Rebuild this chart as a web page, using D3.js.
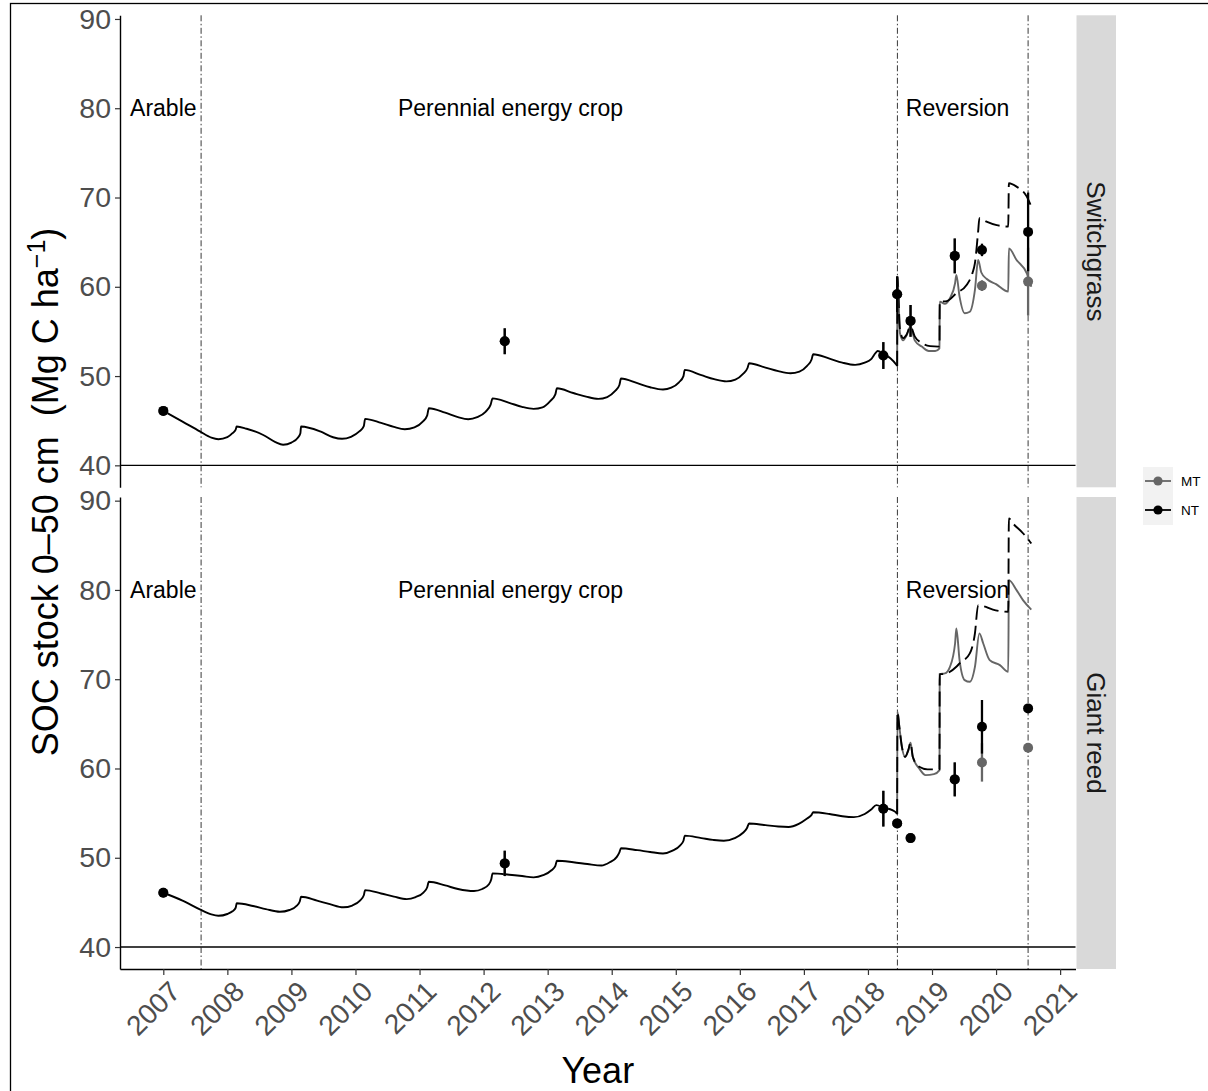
<!DOCTYPE html>
<html><head><meta charset="utf-8">
<script src="https://cdn.jsdelivr.net/npm/d3@7"></script>
<style>
body{margin:0;background:#fff}
svg{display:block}
text{font-family:"Liberation Sans",Arial,Helvetica,sans-serif}
</style>
</head><body>
<svg id="chart" width="1208" height="1091"></svg>
<script>
// ---------------- DATA ----------------
const facets = ["Switchgrass", "Giant reed"];
const treatments = ["MT", "NT"];
const yTicks = [40, 50, 60, 70, 80, 90];
const xTicks = [2007, 2008, 2009, 2010, 2011, 2012, 2013, 2014, 2015, 2016, 2017, 2018, 2019, 2020, 2021];
const phaseLines = [2007.59, 2018.46, 2020.50];
const phaseNames = ["Arable", "Perennial energy crop", "Reversion"];
const phaseLabelX = [2007.0, 2012.42, 2019.40];
const phaseLabelY = 80;

// simulated SOC, shared by MT and NT before reversion [year, value]
const swCommon = [
[2007.0,46.1],[2007.3,44.9],[2007.57,43.8],[2007.75,43.1],[2007.86,42.93],[2008.0,43.15],[2008.08,43.6],[2008.13,44.0],[2008.145,44.35],
[2008.3,44.1],[2008.56,43.4],[2008.75,42.6],[2008.87,42.3],[2009.0,42.55],[2009.1,43.1],[2009.14,43.6],[2009.15,44.35],
[2009.45,43.8],[2009.65,43.15],[2009.79,42.97],[2009.93,43.2],[2010.06,43.8],[2010.13,44.4],[2010.15,45.21],
[2010.4,44.75],[2010.6,44.3],[2010.77,44.05],[2010.92,44.25],[2011.05,44.9],[2011.12,45.6],[2011.145,46.4],
[2011.4,45.9],[2011.6,45.4],[2011.76,45.17],[2011.9,45.4],[2012.03,46.0],[2012.11,46.8],[2012.14,47.5],
[2012.4,47.0],[2012.6,46.55],[2012.78,46.33],[2012.92,46.5],[2013.04,47.2],[2013.12,47.95],[2013.145,48.64],
[2013.4,48.1],[2013.6,47.7],[2013.79,47.45],[2013.93,47.65],[2014.05,48.3],[2014.12,49.0],[2014.145,49.72],
[2014.4,49.2],[2014.6,48.75],[2014.8,48.5],[2014.93,48.7],[2015.05,49.3],[2015.12,50.0],[2015.14,50.69],
[2015.4,50.1],[2015.6,49.65],[2015.79,49.4],[2015.93,49.6],[2016.05,50.25],[2016.12,50.9],[2016.145,51.44],
[2016.4,50.95],[2016.6,50.55],[2016.79,50.32],[2016.93,50.5],[2017.05,51.15],[2017.12,51.85],[2017.145,52.45],
[2017.4,51.95],[2017.6,51.5],[2017.8,51.25],[2017.95,51.5],[2018.05,51.9],[2018.12,52.6],[2018.15,52.8],[2018.25,52.45],[2018.35,52.0],[2018.44,51.3],[2018.456,51.14]
];
const swNT = [
[2018.456,51.14],[2018.46,61.1],[2018.5,55.2],[2018.55,54.25],[2018.6,54.6],[2018.665,55.55],[2018.73,54.45],[2018.84,53.7],[2018.97,53.35],[2019.1,53.3],[2019.117,53.35],
[2019.12,58.34],[2019.23,58.4],[2019.38,59.28],[2019.54,60.2],[2019.63,61.5],[2019.67,62.64],[2019.72,66.18],[2019.74,67.68],[2019.85,67.3],[2020.01,66.9],[2020.19,66.74],
[2020.2,71.6],[2020.32,71.22],[2020.48,70.1],[2020.55,68.98]
];
const swMT = [
[2018.456,51.14],[2018.46,61.1],[2018.5,54.8],[2018.55,54.0],[2018.6,54.5],[2018.665,55.55],[2018.73,54.0],[2018.84,53.3],[2018.95,52.8],[2019.05,52.8],[2019.117,53.1],
[2019.12,58.34],[2019.2,58.1],[2019.28,58.72],[2019.36,60.4],[2019.38,61.33],[2019.43,58.9],[2019.51,57.04],[2019.59,57.2],[2019.67,59.65],[2019.72,63.0],[2019.77,61.6],[2019.85,60.9],[2020.0,60.3],[2020.19,59.46],
[2020.2,64.3],[2020.32,63.0],[2020.48,61.5],[2020.55,60.0]
];
const grCommon = [
[2007.0,46.08],[2007.3,45.2],[2007.57,44.22],[2007.75,43.65],[2007.86,43.5],[2008.0,43.7],[2008.08,44.0],[2008.13,44.4],[2008.145,44.9],
[2008.4,44.6],[2008.6,44.25],[2008.82,43.95],[2008.97,44.15],[2009.08,44.6],[2009.13,45.1],[2009.15,45.63],
[2009.4,45.2],[2009.6,44.8],[2009.81,44.45],[2009.95,44.65],[2010.07,45.2],[2010.13,45.8],[2010.15,46.38],
[2010.4,46.0],[2010.6,45.65],[2010.8,45.37],[2010.94,45.6],[2011.06,46.1],[2011.12,46.7],[2011.145,47.31],
[2011.4,46.9],[2011.6,46.5],[2011.85,46.27],[2011.98,46.5],[2012.08,47.0],[2012.12,47.6],[2012.14,48.25],
[2012.4,48.1],[2012.6,47.95],[2012.78,47.8],[2012.93,48.05],[2013.06,48.6],[2013.12,49.1],[2013.145,49.66],
[2013.4,49.5],[2013.62,49.3],[2013.84,49.13],[2013.97,49.5],[2014.08,50.1],[2014.12,50.6],[2014.145,51.06],
[2014.4,50.85],[2014.6,50.65],[2014.8,50.48],[2014.95,50.8],[2015.07,51.4],[2015.12,51.9],[2015.14,52.48],
[2015.4,52.2],[2015.58,52.0],[2015.75,51.9],[2015.92,52.2],[2016.05,52.8],[2016.11,53.3],[2016.145,53.84],
[2016.4,53.65],[2016.6,53.5],[2016.76,53.45],[2016.92,53.8],[2017.05,54.4],[2017.12,54.8],[2017.145,55.1],
[2017.4,54.9],[2017.6,54.65],[2017.78,54.55],[2017.95,54.9],[2018.05,55.4],[2018.13,55.9],[2018.25,55.6],[2018.38,55.34],[2018.45,54.97],[2018.456,54.9]
];
const grNT = [
[2018.456,54.9],[2018.46,66.35],[2018.49,64.67],[2018.53,62.43],[2018.58,61.31],[2018.63,62.06],[2018.665,62.88],[2018.7,61.31],[2018.8,60.19],[2018.93,59.9],[2019.1,59.9],[2019.117,59.95],
[2019.12,70.57],[2019.17,70.57],[2019.38,71.39],[2019.43,71.77],[2019.59,72.89],[2019.67,75.13],[2019.72,78.3],[2019.8,78.19],[2019.95,77.8],[2020.19,77.55],
[2020.2,88.0],[2020.27,87.4],[2020.4,86.5],[2020.47,85.95],[2020.55,85.2]
];
const grMT = [
[2018.456,54.9],[2018.46,66.35],[2018.49,64.67],[2018.53,62.43],[2018.58,61.31],[2018.63,62.06],[2018.665,62.88],[2018.7,61.31],[2018.8,60.0],[2018.9,59.26],[2019.03,59.37],[2019.117,59.82],
[2019.12,70.57],[2019.2,70.65],[2019.28,71.39],[2019.36,74.0],[2019.38,75.69],[2019.43,72.14],[2019.51,69.9],[2019.59,69.71],[2019.67,71.39],[2019.74,75.13],[2019.8,74.0],[2019.9,72.14],[2020.06,71.58],[2020.19,70.83],
[2020.2,81.1],[2020.32,79.98],[2020.42,78.86],[2020.55,77.8]
];

// observed SOC (mean and error half-width)
const obsYears  = [2007.0, 2012.33, 2018.24, 2018.456, 2018.665, 2019.355, 2019.78, 2020.50];
const swObsNT   = [46.1, 53.9, 52.3, 59.17, 56.18, 63.46, 64.13, 66.15];
const swErrNT   = [0, 1.45, 1.5, 2.0, 1.78, 1.95, 0.7, 4.4];
const swObsMT   = [46.1, 53.9, 52.3, 59.17, 56.18, 63.46, 60.13, 60.58];
const swErrMT   = [0, 1.45, 1.5, 2.0, 1.78, 1.95, 0.6, 3.8];
const grObsNT   = [46.08, 49.37, 55.5, 53.85, 52.2, 58.78, 64.67, 66.73];
const grErrNT   = [0, 1.42, 2.0, 0.4, 0.4, 1.9, 3.0, 0.5];
const grObsMT   = [46.08, 49.37, 55.5, 53.85, 52.2, 58.78, 60.68, 62.32];
const grErrMT   = [0, 1.42, 2.0, 0.4, 0.4, 1.9, 2.15, 0.5];

// ---------------- LAYOUT ----------------
const svg = d3.select("#chart");
const colMT = "#666666", colNT = "#000000";
const left = 120, right = 1075.5, panelH = 472;
const panelTops = [15.3, 497];

const x = d3.scaleLinear().domain([2006.324, 2021.24]).range([left, right]);

const panelData = [
  {name: facets[0], common: swCommon, nt: swNT, mt: swMT, oNT: swObsNT, eNT: swErrNT, oMT: swObsMT, eMT: swErrMT},
  {name: facets[1], common: grCommon, nt: grNT, mt: grMT, oNT: grObsNT, eNT: grErrNT, oMT: grObsMT, eMT: grErrMT}
];

// outer border
svg.append("rect").attr("x", 10.5).attr("y", 3.5).attr("width", 1400).attr("height", 1300)
  .attr("fill", "none").attr("stroke", "#000").attr("stroke-width", 1.3);

panelData.forEach((p, i) => {
  const top = panelTops[i];
  const y = d3.scaleLinear().domain([37.54, 90.41]).range([top + panelH, top]);
  const g = svg.append("g");
  const line = d3.line().x(d => x(d[0])).y(d => y(d[1])).curve(d3.curveMonotoneX);

  // hline at 40
  g.append("line").attr("x1", left).attr("x2", right).attr("y1", y(40)).attr("y2", y(40))
    .attr("stroke", "#000").attr("stroke-width", 1.4);

  // phase lines
  g.selectAll(".phase").data(phaseLines).join("line")
    .attr("x1", d => x(d)).attr("x2", d => x(d)).attr("y1", top).attr("y2", top + panelH)
    .attr("stroke", "#222").attr("stroke-width", 0.9).attr("stroke-dasharray", "6,2.5,1.5,2.5");

  // phase labels
  g.selectAll(".plab").data(phaseNames).join("text")
    .attr("x", (d, k) => x(phaseLabelX[k])).attr("y", y(phaseLabelY))
    .attr("text-anchor", "middle").attr("dominant-baseline", "central")
    .attr("font-size", 23).attr("fill", "#000").text(d => d);

  // simulated lines
  g.append("path").attr("d", line(p.mt)).attr("fill", "none").attr("stroke", colMT).attr("stroke-width", 1.9);
  g.append("path").attr("d", line(p.common)).attr("fill", "none").attr("stroke", colNT).attr("stroke-width", 1.9);
  g.append("path").attr("d", line(p.nt)).attr("fill", "none").attr("stroke", colNT).attr("stroke-width", 1.9)
    .attr("stroke-dasharray", "15,6");

  // observations: MT under NT
  [[p.oMT, p.eMT, colMT], [p.oNT, p.eNT, colNT]].forEach(([o, e, c]) => {
    g.append("g").selectAll("line").data(obsYears).join("line")
      .attr("x1", d => x(d)).attr("x2", d => x(d))
      .attr("y1", (d, k) => y(o[k] - e[k])).attr("y2", (d, k) => y(o[k] + e[k]))
      .attr("stroke", c).attr("stroke-width", 2.3);
    g.append("g").selectAll("circle").data(obsYears).join("circle")
      .attr("cx", d => x(d)).attr("cy", (d, k) => y(o[k])).attr("r", 5).attr("fill", c);
  });

  // y axis
  const ya = g.append("g").attr("transform", `translate(${left},0)`)
    .call(d3.axisLeft(y).tickValues(yTicks).tickSize(5).tickPadding(4).tickSizeOuter(0));
  ya.select(".domain").attr("stroke", "#000").attr("stroke-width", 1.4);
  ya.selectAll(".tick line").attr("stroke", "#333").attr("stroke-width", 1.2);
  ya.selectAll(".tick text").attr("font-size", 28.5).attr("fill", "#4D4D4D")
    .attr("font-family", '"Liberation Sans",Arial,sans-serif');

  // strip
  g.append("rect").attr("x", 1076.5).attr("y", top).attr("width", 39.5).attr("height", panelH).attr("fill", "#D9D9D9");
  g.append("text").attr("transform", `translate(1096,${top + panelH / 2}) rotate(90)`)
    .attr("text-anchor", "middle").attr("dominant-baseline", "central")
    .attr("font-size", 26).attr("fill", "#1A1A1A").text(p.name);

  // x axis only on bottom panel
  if (i === 1) {
    const xa = g.append("g").attr("transform", `translate(0,${top + panelH})`)
      .call(d3.axisBottom(x).tickValues(xTicks).tickFormat(d3.format("d")).tickSize(6).tickSizeOuter(0));
    xa.select(".domain").attr("stroke", "#000").attr("stroke-width", 1.4);
    xa.selectAll(".tick line").attr("stroke", "#333").attr("stroke-width", 1.2);
    xa.selectAll(".tick text")
      .attr("font-size", 28).attr("fill", "#4D4D4D").attr("font-family", '"Liberation Sans",Arial,sans-serif')
      .attr("text-anchor", "end").attr("dy", "0.72em").attr("y", 0)
      .attr("transform", "translate(4,10) rotate(-45)");
  }
});

// axis titles
svg.append("text").attr("x", (left + right) / 2).attr("y", 1083).attr("text-anchor", "middle")
  .attr("font-size", 36).attr("fill", "#000").text("Year");
const yt = svg.append("text").attr("transform", "translate(58,492) rotate(-90)").attr("text-anchor", "middle")
  .attr("font-size", 36).attr("fill", "#000");
yt.append("tspan").text("SOC stock 0\u201350 cm\u00a0 (Mg C ha");
yt.append("tspan").attr("font-size", 25).attr("dy", -13).text("\u22121");
yt.append("tspan").attr("dy", 13).text(")");

// legend
const lg = svg.append("g");
lg.append("rect").attr("x", 1143).attr("y", 467).attr("width", 30).attr("height", 58).attr("fill", "#F2F2F2");
treatments.forEach((t, k) => {
  const cy = 481 + k * 29, c = t === "MT" ? colMT : colNT;
  lg.append("line").attr("x1", 1145).attr("x2", 1171).attr("y1", cy).attr("y2", cy).attr("stroke", c).attr("stroke-width", 1.8);
  lg.append("circle").attr("cx", 1158).attr("cy", cy).attr("r", 4.6).attr("fill", c);
  lg.append("text").attr("x", 1181).attr("y", cy).attr("dominant-baseline", "central")
    .attr("font-size", 13.5).attr("fill", "#000").text(t);
});
</script>
</body></html>
